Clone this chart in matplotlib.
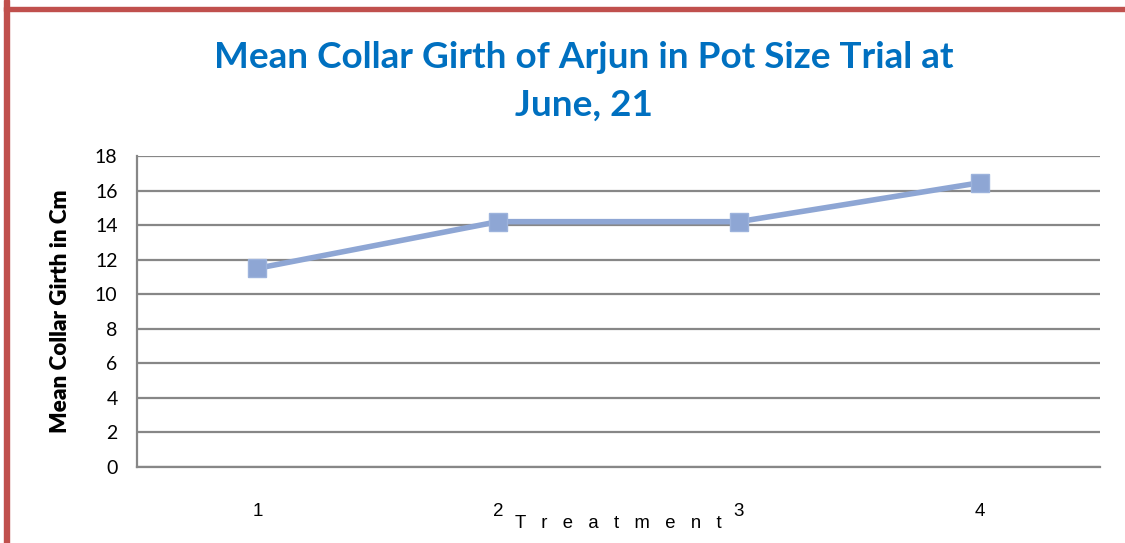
import matplotlib.pyplot as plt
from matplotlib.patches import Rectangle

# data
treatments = ['1', '2', '3', '4']
girth = [11.5, 14.2, 14.2, 16.45]
y_ticks = [0, 2, 4, 6, 8, 10, 12, 14, 16, 18]

title_txt = 'Mean Collar Girth of Arjun in Pot Size Trial at\nJune, 21'
ylabel_txt = 'Mean Collar Girth in Cm'
xlabel_txt = 'T   r   e   a   t   m   e   n   t'

fig = plt.figure(figsize=(11.25, 5.43), dpi=100)
ax = fig.add_axes([137 / 1125, 1 - 467 / 543, 963 / 1125, 311 / 543])

# outer frame (red, only left and top visible)
fig.patches.append(Rectangle((4 / 1125, -0.1), 5 / 1125, 1.1,
                             transform=fig.transFigure, color='#C0504D', zorder=0))
fig.patches.append(Rectangle((4 / 1125, 1 - 11 / 543), 1.2, 3.5 / 543,
                             transform=fig.transFigure, color='#C0504D', zorder=0))

x = list(range(1, len(treatments) + 1))
ax.plot(x, girth, color='#8EA6D4', lw=4, marker='s', markersize=13,
        markerfacecolor='#8EA6D4', markeredgecolor='#9DB3DC', zorder=3)

ax.set_xlim(0.5, 4.5)
ax.set_ylim(0, 18)
ax.set_yticks(y_ticks)
ax.set_xticks(x)
ax.set_xticklabels(treatments, family='Liberation Sans', fontsize=13.5)
ax.tick_params(axis='y', labelsize=14, length=0, pad=14)
ax.tick_params(axis='x', length=0, pad=26)
for lab in ax.get_yticklabels():
    lab.set_family('Lato')

ax.yaxis.grid(True, color='#878787', lw=1.6)
ax.set_axisbelow(True)
for s in ['top', 'right']:
    ax.spines[s].set_visible(False)
for s in ['left', 'bottom']:
    ax.spines[s].set_color('#878787')
    ax.spines[s].set_linewidth(1.6)

ax.set_ylabel(ylabel_txt, family='Lato', fontweight='heavy', fontsize=16.2, labelpad=17)
ax.set_xlabel(xlabel_txt, family='Liberation Sans', fontsize=13.3, labelpad=-4)

fig.text(584 / 1125, 1 - 81 / 543, title_txt, ha='center', va='center',
         family='Lato', fontweight='bold', fontsize=26.6, color='#0070C0',
         linespacing=1.55)

fig.savefig('out.png', dpi=100)
